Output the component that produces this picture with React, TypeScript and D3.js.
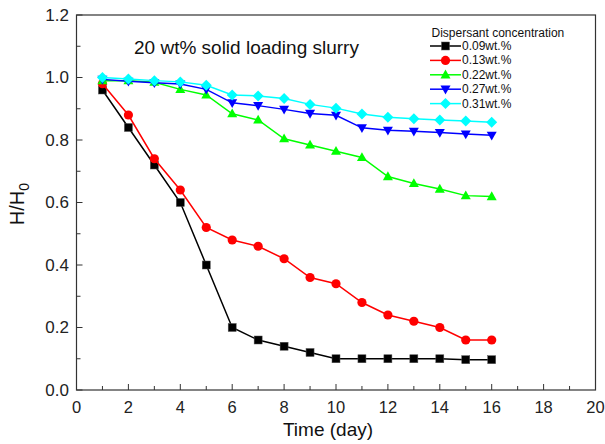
import React from "react";
import * as d3 from "d3";

const days = [1, 2, 3, 4, 5, 6, 7, 8, 9, 10, 11, 12, 13, 14, 15, 16];
const seriesNames = ["0.09wt.%", "0.13wt.%", "0.22wt.%", "0.27wt.%", "0.31wt.%"];
const s009 = [0.96, 0.84, 0.72, 0.60, 0.40, 0.20, 0.16, 0.14, 0.12, 0.10, 0.10, 0.10, 0.10, 0.10, 0.097, 0.097];
const s013 = [0.98, 0.88, 0.74, 0.64, 0.52, 0.48, 0.46, 0.42, 0.36, 0.34, 0.28, 0.24, 0.22, 0.20, 0.16, 0.16];
const s022 = [0.99, 0.99, 0.985, 0.962, 0.944, 0.884, 0.864, 0.804, 0.784, 0.764, 0.744, 0.683, 0.661, 0.643, 0.622, 0.619];
const s027 = [0.994, 0.988, 0.983, 0.979, 0.962, 0.919, 0.91, 0.898, 0.885, 0.879, 0.839, 0.831, 0.828, 0.824, 0.819, 0.815];
const s031 = [1.0, 0.995, 0.99, 0.986, 0.975, 0.944, 0.941, 0.933, 0.914, 0.902, 0.883, 0.873, 0.868, 0.864, 0.861, 0.857];
const xTicks = [0, 2, 4, 6, 8, 10, 12, 14, 16, 18, 20];
const yTicks = [0.0, 0.2, 0.4, 0.6, 0.8, 1.0, 1.2];

const colors = ["#000000", "#ff0000", "#00ff00", "#0000ff", "#00ffff"];
const shapes = ["square", "circle", "triangle", "triangleDown", "diamond"];
const allSeries = [s009, s013, s022, s027, s031];

const FONT = "'Liberation Sans', Arial, sans-serif";

function Marker({ shape, x, y, color }: { shape: string; x: number; y: number; color: string }) {
  if (shape === "square") return <rect x={x - 4} y={y - 4} width={8} height={8} fill={color} stroke="#555" strokeWidth={0.5} />;
  if (shape === "circle") return <circle cx={x} cy={y} r={4.6} fill={color} />;
  if (shape === "triangle")
    return <path d={`M${x},${y - 5.2}L${x + 5},${y + 3.6}L${x - 5},${y + 3.6}Z`} fill={color} />;
  if (shape === "triangleDown")
    return <path d={`M${x},${y + 5.2}L${x + 5},${y - 3.6}L${x - 5},${y - 3.6}Z`} fill={color} />;
  return <path d={`M${x},${y - 5.5}L${x + 5.5},${y}L${x},${y + 5.5}L${x - 5.5},${y}Z`} fill={color} />;
}

export default function App() {
  const W = 605, H = 444;
  const left = 76.5, right = 595.5, top = 15, bottom = 390;
  const x = d3.scaleLinear().domain([0, 20]).range([left, right]);
  const y = d3.scaleLinear().domain([0, 1.2]).range([bottom, top]);
  const line = d3.line<number>().x((_, i) => x(days[i])).y((d) => y(d));
  const xMinor = d3.range(0, 21, 1);
  const yMinor = d3.range(0, 1.21, 0.1);

  return (
    <svg width={W} height={H} style={{ position: "absolute", left: 0, top: 0, background: "#fff" }} fontFamily={FONT}>
      <rect x={0} y={0} width={W} height={H} fill="#fff" />
      {xMinor.map((t) => (
        <line key={"xt" + t} x1={x(t)} x2={x(t)} y1={bottom} y2={bottom - (t % 2 === 0 ? 6 : 4)} stroke="#333" strokeWidth={1} />
      ))}
      {yMinor.map((t, i) => (
        <line key={"yt" + i} x1={left} x2={left + (i % 2 === 0 ? 6 : 4)} y1={y(t)} y2={y(t)} stroke="#333" strokeWidth={1} />
      ))}
      <rect x={left} y={top} width={right - left} height={bottom - top} fill="none" stroke="#333" strokeWidth={1.2} />
      {xTicks.map((t) => (
        <text key={"xl" + t} x={x(t)} y={413} textAnchor="middle" fontSize={16.5} fill="#222">{t}</text>
      ))}
      {yTicks.map((t) => (
        <text key={"yl" + t} x={69} y={y(t)} textAnchor="end" dominantBaseline="central" fontSize={17} fill="#222">{t.toFixed(1)}</text>
      ))}
      <text x={328} y={435.5} textAnchor="middle" fontSize={19} fill="#111">Time (day)</text>
      <text transform={`translate(24,${204}) rotate(-90)`} textAnchor="middle" fontSize={20} fill="#111">
        H/H<tspan fontSize={14} dy={5}>0</tspan>
      </text>
      <text x={134} y={54} fontSize={19} fill="#111">20 wt% solid loading slurry</text>
      {allSeries.map((s, si) => (
        <g key={"s" + si}>
          <path d={line(s) || ""} fill="none" stroke={colors[si]} strokeWidth={1.5} />
          {s.map((v, i) => (
            <Marker key={i} shape={shapes[si]} x={x(days[i])} y={y(v)} color={colors[si]} />
          ))}
        </g>
      ))}
      <text x={431.5} y={37} fontSize={12} fill="#111">Dispersant concentration</text>
      {seriesNames.map((n, i) => {
        const ly = 46 + i * 14.4;
        return (
          <g key={"lg" + i}>
            <line x1={430} x2={461} y1={ly} y2={ly} stroke={colors[i]} strokeWidth={1.5} />
            <Marker shape={shapes[i]} x={445.5} y={ly} color={colors[i]} />
            <text x={462} y={ly} dominantBaseline="central" fontSize={12} fill="#111">{n}</text>
          </g>
        );
      })}
    </svg>
  );
}
